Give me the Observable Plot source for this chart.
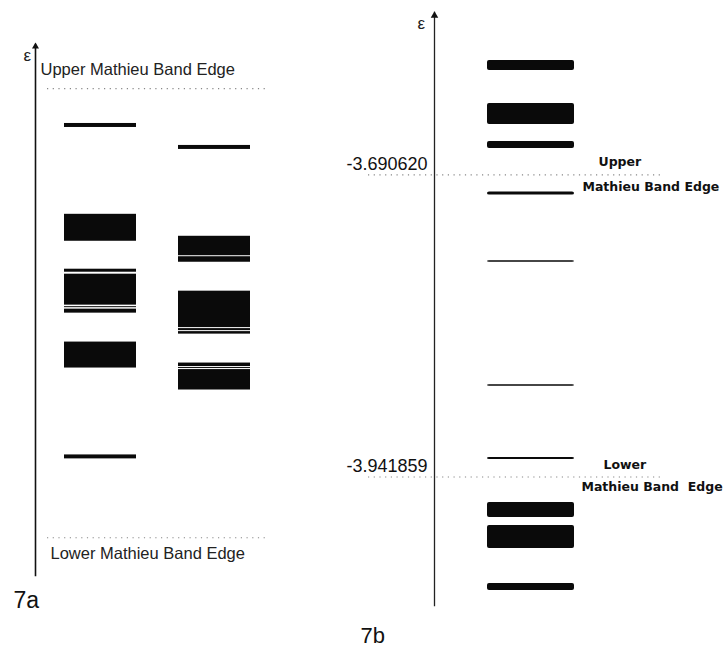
<!DOCTYPE html>
<html>
<head>
<meta charset="utf-8">
<script src="https://cdn.jsdelivr.net/npm/d3@7"></script>
<script src="https://cdn.jsdelivr.net/npm/@observablehq/plot@0.6"></script>
<style>
  html, body { margin: 0; padding: 0; background: #fff; }
  #wrap { position: relative; width: 726px; height: 655px; overflow: hidden; }
  #wrap svg { position: absolute; left: 0; top: 0; }
</style>
</head>
<body>
<div id="wrap"></div>
<script>
// ---------- Panel 7a (energy in units where lower band edge = 0, upper = 1) ----------
const columnsA = ["i", "ii"];
const edgesA = [1, 0];               // upper, lower Mathieu band edge
const edgeLabelsA = ["Upper Mathieu Band Edge", "Lower Mathieu Band Edge"];
// level clusters: column, low, high
const levelColA = ["i","i","i","i","i","i","i","i",
                   "ii","ii","ii","ii","ii","ii","ii","ii","ii"];
const levelLoA  = [0.9133, 0.6600, 0.5911, 0.5178, 0.5122, 0.5000, 0.3778, 0.1756,
                   0.8644, 0.6278, 0.6133, 0.4678, 0.4611, 0.4533, 0.3811, 0.3767, 0.3289];
const levelHiA  = [0.9222, 0.7200, 0.5978, 0.5867, 0.5144, 0.5089, 0.4356, 0.1844,
                   0.8733, 0.6711, 0.6256, 0.5489, 0.4656, 0.4589, 0.3889, 0.3789, 0.3744];
const yDomainA = [-0.084, 1.098];

// ---------- Panel 7b (actual energies) ----------
const columnsB = ["b"];
const edgesB = [-3.690620, -3.941859];
const levelLoB = [-3.603908, -3.648802, -3.668755, -3.707414, -3.763282, -3.866372,
                  -3.927311, -3.975530, -4.001303, -4.036220];
const levelHiB = [-3.595594, -3.631343, -3.662935, -3.704920, -3.762118, -3.865208,
                  -3.925648, -3.963060, -3.982182, -4.030401];
const yDomainB = [-4.0487, -3.5557];

const levelsA = levelColA.map((c, i) => ({col: c, lo: levelLoA[i], hi: levelHiA[i]}));
const levelsB = levelLoB.map((lo, i) => ({col: columnsB[0], lo, hi: levelHiB[i]}));

const W = 726, H = 655;
const helv = "'Liberation Sans', Arial, sans-serif";
const geo = "'DejaVu Sans', sans-serif";

const plotA = Plot.plot({
  width: W, height: H,
  marginLeft: 35, marginRight: 458, marginTop: 44, marginBottom: 80,
  style: {background: "transparent", fontFamily: helv},
  x: {type: "band", domain: columnsA, range: [63, 250], paddingInner: 0.37, paddingOuter: 0, axis: null},
  y: {domain: yDomainA, axis: null},
  marks: [
    Plot.frame({anchor: "left", strokeWidth: 1.6, stroke: "#111"}),
    Plot.dot([0], {frameAnchor: "top-left", symbol: "triangle", r: 2.6, fill: "#111", stroke: null, dy: 2}),
    Plot.text(["ε"], {frameAnchor: "top-left", dx: -12, dy: 4, fontSize: 17, fill: "#222"}),
    Plot.ruleY(edgesA, {insetLeft: 12, stroke: "#888", strokeWidth: 1.2, strokeDasharray: "1.2,4.5"}),
    Plot.text([edgeLabelsA[0]], {y: edgesA[0], frameAnchor: "left", textAnchor: "start", lineAnchor: "bottom",
      dx: 5, dy: -14, fontSize: 16.5, fill: "#222"}),
    Plot.text([edgeLabelsA[1]], {y: edgesA[1], frameAnchor: "left", textAnchor: "start", lineAnchor: "bottom",
      dx: 15, dy: 21, fontSize: 16.5, fill: "#222"}),
    Plot.barY(levelsA, {x: "col", y1: "lo", y2: "hi", fill: "#0a0a0a"}),
    Plot.text(["7a"], {frameAnchor: "bottom-left", textAnchor: "start", lineAnchor: "bottom",
      dx: -22, dy: 32, fontSize: 23, fill: "#111"})
  ]
});

const plotB = Plot.plot({
  width: W, height: H,
  marginLeft: 434, marginRight: 64, marginTop: 12, marginBottom: 50,
  style: {background: "transparent", fontFamily: geo},
  x: {type: "band", domain: columnsB, range: [487, 574], paddingInner: 0, paddingOuter: 0, axis: null},
  y: {domain: yDomainB, axis: null},
  marks: [
    Plot.frame({anchor: "left", strokeWidth: 1.3, stroke: "#222"}),
    Plot.dot([0], {frameAnchor: "top-left", symbol: "triangle", r: 2.8, fill: "#111", stroke: null, dy: 3}),
    Plot.text(["ε"], {frameAnchor: "top-left", dx: -17, dy: 4, fontSize: 17, fill: "#222", fontFamily: helv}),
    Plot.ruleY(edgesB, {insetLeft: -66, stroke: "#888", strokeWidth: 1.2, strokeDasharray: "1.2,4.5"}),
    Plot.text(edgesB, {y: d => d, text: d => d.toFixed(6), frameAnchor: "left", textAnchor: "end",
      lineAnchor: "bottom", dx: -7, dy: -5, fontSize: 18, fill: "#111", fontFamily: helv}),
    Plot.text(["Upper"], {y: edgesB[0], frameAnchor: "right", textAnchor: "start", lineAnchor: "bottom",
      dx: -64, dy: -9, fontSize: 12.5, fontWeight: "bold", fill: "#111"}),
    Plot.text(["Mathieu Band Edge"], {y: edgesB[0], frameAnchor: "right", textAnchor: "start", lineAnchor: "bottom",
      dx: -80, dy: 16, fontSize: 12.5, fontWeight: "bold", fill: "#111"}),
    Plot.text(["Lower"], {y: edgesB[1], frameAnchor: "right", textAnchor: "start", lineAnchor: "bottom",
      dx: -59, dy: -8, fontSize: 12.5, fontWeight: "bold", fill: "#111"}),
    Plot.text(["Mathieu Band  Edge"], {y: edgesB[1], frameAnchor: "right", textAnchor: "start", lineAnchor: "bottom",
      dx: -81, dy: 14, fontSize: 12.5, fontWeight: "bold", fill: "#111"}),
    Plot.barY(levelsB, {x: "col", y1: "lo", y2: "hi", fill: "#0a0a0a", rx: 2}),
    Plot.text(["7b"], {frameAnchor: "bottom-left", textAnchor: "start", lineAnchor: "bottom",
      dx: -74, dy: 37, fontSize: 22, fill: "#111", fontFamily: helv})
  ]
});

const wrap = document.getElementById("wrap");
wrap.appendChild(plotA);
wrap.appendChild(plotB);
</script>
</body>
</html>
